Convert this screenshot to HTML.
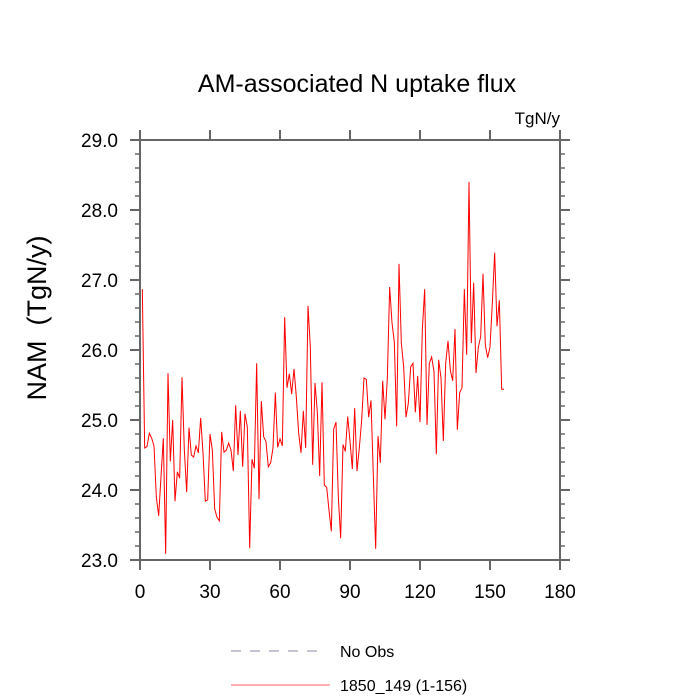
<!DOCTYPE html>
<html><head><meta charset="utf-8"><style>
html,body{margin:0;padding:0;background:#fff;}
svg{display:block;font-family:"Liberation Sans",sans-serif;}
</style></head><body>
<svg id="chart" width="700" height="700" viewBox="0 0 700 700" xmlns="http://www.w3.org/2000/svg">
<text x="357" y="92" font-size="25" text-anchor="middle">AM-associated N uptake flux</text>
<text x="560" y="124" font-size="17" text-anchor="end">TgN/y</text>
<text transform="translate(46,318) rotate(-90)" font-size="27" text-anchor="middle" xml:space="preserve">NAM  (TgN/y)</text>
<g id="axes"></g>
<g id="series"></g>
<g>
<line x1="231" y1="651" x2="326" y2="651" stroke="#8888aa" stroke-width="1" stroke-dasharray="10,9"/>
<text x="340" y="657" font-size="16">No Obs</text>
<line x1="231" y1="685" x2="330" y2="685" stroke="#ff6060" stroke-width="1"/>
<text x="340" y="691" font-size="16">1850_149 (1-156)</text>
</g>
</svg>
<script>
const xTicks=[0,30,60,90,120,150,180];
const yTicks=[23.0,24.0,25.0,26.0,27.0,28.0,29.0];
const seriesValues=[26.87,24.6,24.62,24.81,24.74,24.63,23.9,23.63,24.19,24.74,23.09,25.67,24.41,25.0,23.84,24.26,24.17,25.61,24.57,23.97,
24.89,24.5,24.47,24.63,24.53,25.03,24.53,23.84,23.86,24.8,24.57,23.73,23.61,23.56,24.83,24.54,24.57,24.67,24.57,24.27,
25.21,24.5,25.13,24.33,25.09,24.9,23.17,24.44,24.31,25.81,23.87,25.27,24.76,24.69,24.33,24.39,24.6,25.39,24.61,24.73,
24.63,26.47,25.46,25.66,25.37,25.73,25.33,24.81,24.53,25.13,24.6,26.63,26.04,24.36,25.53,25.11,24.2,25.54,24.07,24.04,
23.71,23.41,24.87,24.97,23.9,23.31,24.65,24.55,25.05,24.7,24.3,25.17,24.27,24.6,25.0,25.6,25.58,25.04,25.28,24.2,
23.16,24.77,24.39,25.56,25.01,25.6,26.9,26.39,26.11,24.91,27.23,26.1,25.76,25.04,25.24,25.76,25.81,25.11,25.63,24.97,
26.29,26.87,24.93,25.81,25.9,25.69,24.51,25.86,25.6,24.7,25.81,26.13,25.71,25.56,26.3,24.86,25.39,25.46,26.87,25.93,
28.4,26.1,26.96,25.67,26.04,26.19,27.09,26.07,25.89,26.04,26.67,27.39,26.34,26.71,25.44,25.44];
const NS="http://www.w3.org/2000/svg";
const X0=140,X1=560,Y0=560,Y1=140;
function xs(v){return X0+(v-0)/(180-0)*(X1-X0);}
function ys(v){return Y0-(v-23)/(29-23)*(Y0-Y1);}
function mk(tag,attrs,parent){const e=document.createElementNS(NS,tag);for(const k in attrs)e.setAttribute(k,attrs[k]);parent.appendChild(e);return e;}
const ax=document.getElementById('axes');
const frame=mk('rect',{x:X0,y:Y1,width:X1-X0,height:Y0-Y1,fill:'none',stroke:'#666','stroke-width':2},ax);


xTicks.forEach(t=>{
  const x=xs(t);
  const a=mk('line',{x1:x,y1:Y0,x2:x,y2:Y0+10,stroke:'#666','stroke-width':2},ax);
  
  
  const b=mk('line',{x1:x,y1:Y1,x2:x,y2:Y1-10,stroke:'#666','stroke-width':2},ax);
  
  
  const l=mk('text',{x:x,y:598,'font-size':19,'text-anchor':'middle'},ax);
  l.textContent=String(t);
  
  
});
for(let v=23;v<=29.001;v+=0.2){
  const major=Math.abs(v-Math.round(v))<0.01;
  const y=ys(v);const len=major?10:5;
  const a=mk('line',{x1:X0,y1:y,x2:X0-len,y2:y,stroke:'#666','stroke-width':major?2:1.5},ax);
  
  
  const b=mk('line',{x1:X1,y1:y,x2:X1+len,y2:y,stroke:'#666','stroke-width':major?2:1.5},ax);
  
  
}
yTicks.forEach(t=>{
  const l=mk('text',{x:118,y:ys(t)+7,'font-size':19,'text-anchor':'end'},ax);
  l.textContent=t.toFixed(1);
  
  
});
const pts=seriesValues.map((v,i)=>xs(i+1).toFixed(2)+','+ys(v).toFixed(2)).join(' ');
const pl=mk('polyline',{points:pts,fill:'none',stroke:'#ff0000','stroke-width':1,'stroke-linejoin':'miter'},document.getElementById('series'));


</script>
</body></html>
